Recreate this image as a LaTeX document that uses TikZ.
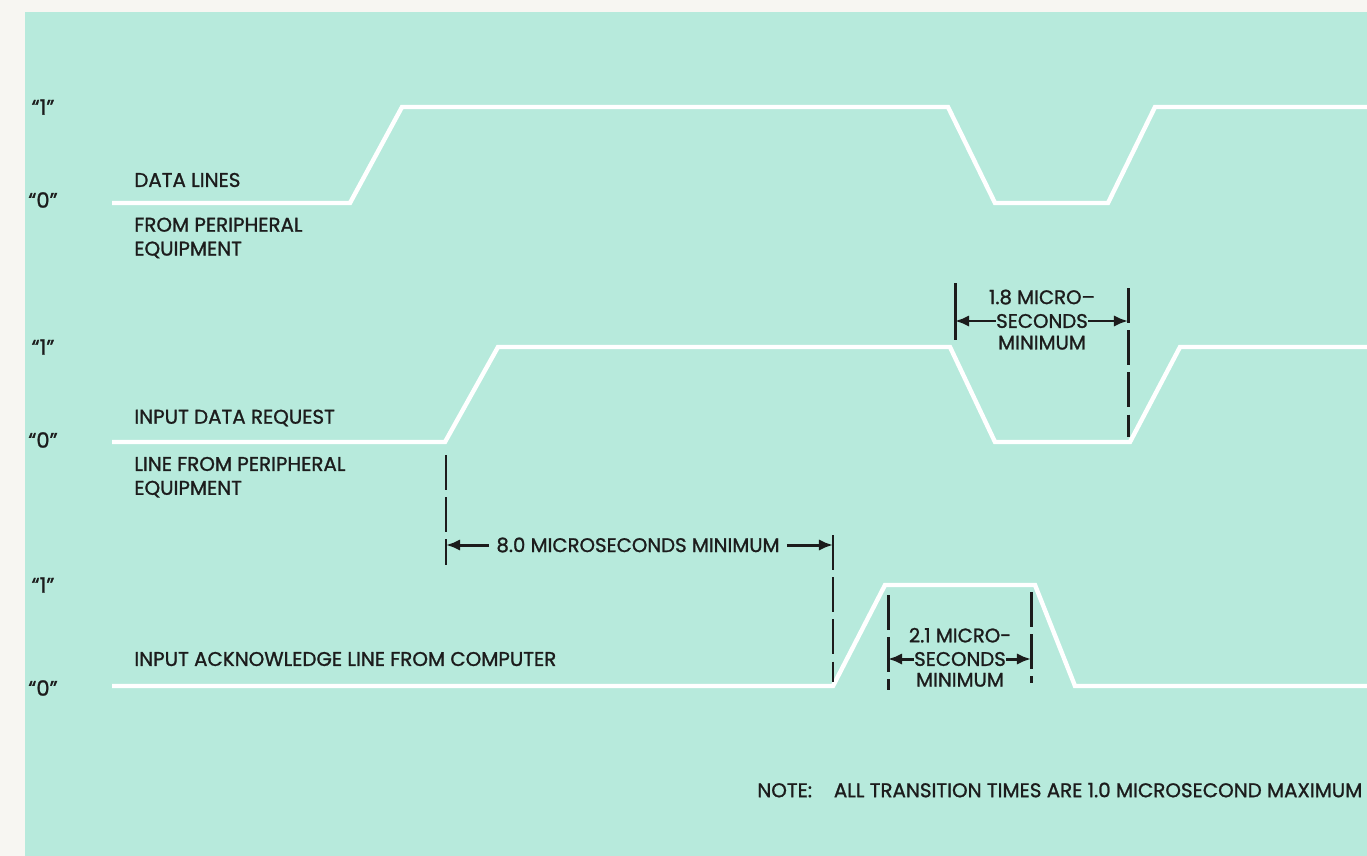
\documentclass[tikz,border=0pt]{standalone}
\usepackage{fontspec}
\setmainfont{Poppins}[FakeBold=1.2]
\usetikzlibrary{arrows.meta, positioning}
\definecolor{mintbg}{RGB}{183,234,220}
\definecolor{paperbg}{RGB}{247,246,242}
\definecolor{inkblack}{RGB}{28,28,28}

\begin{document}
\begin{tikzpicture}[
  x=0.02cm, y=-0.02cm,
  wave/.style={draw=white, line width=2.5pt, line join=miter},
  lvl/.style={inner sep=0pt, text=inkblack, font=\fontsize{12}{13}\selectfont},
  lbl/.style={anchor=west, align=left, inner sep=0pt, text=inkblack, font=\fontsize{11.3}{13.6}\selectfont},
  dimtext/.style={align=center, inner sep=0pt, text=inkblack, font=\fontsize{11.2}{12}\selectfont},
  marker/.style={draw=inkblack, line width=1.7pt, dash pattern=on 20pt off 4pt},
  dimarrow/.style={draw=inkblack, line width=1.7pt, -{Latex[length=8pt,width=6.5pt]}}
]
\useasboundingbox (0,0) rectangle (1367,856);

% paper and tinted panel
\fill[paperbg] (0,0) rectangle (1367,856);
\fill[mintbg] (25,12) rectangle (1367,856);

% logic levels
\foreach \name/\yy/\val in {aone/107/1, azero/200/0, bone/347/1, bzero/440/0, cone/585/1, czero/688/0} {
  \node[lvl] (\name) at (43,\yy) {``\val''};
}

% waveforms
\draw[wave] (112,203) -- (350,203) -- (402,107) -- (948,107) -- (995,203)
  -- (1108,203) -- (1155,107) -- (1367,107);
\draw[wave] (112,442) -- (445,442) -- (498,347) -- (950,347) -- (995,442)
  -- (1130,442) -- (1180,347) -- (1367,347);
\draw[wave] (112,686) -- (833,686) -- (885,585) -- (1035,585) -- (1075,686)
  -- (1367,686);

% signal names
\node[lbl] (datalines) at (134,180) {DATA LINES};
\node[lbl, below=17pt of datalines.south west, anchor=north west] (dataperiph) {FROM PERIPHERAL\\EQUIPMENT};
\node[lbl] (request) at (134,418) {INPUT DATA REQUEST};
\node[lbl, below=17pt of request.south west, anchor=north west] (reqperiph) {LINE FROM PERIPHERAL\\EQUIPMENT};
\node[lbl] (ack) at (134,659) {INPUT ACKNOWLEDGE LINE FROM COMPUTER};

% timing marks
\coordinate (ta) at (446,545);
\coordinate (tb) at (833,545);
\coordinate (tc) at (955,321);
\coordinate (td) at (1128,321);
\coordinate (te) at (888,659);
\coordinate (tf) at (1031,659);
\draw[marker] (446,455) -- (446,565);
\draw[marker] (833,535) -- (833,682);
\draw[line width=1.7pt, draw=inkblack] (955,283) -- (955,340);
\draw[marker] (1128,288) -- (1128,437);
\draw[marker] (888,595) -- (888,690);
\draw[marker] (1031,592) -- (1031,683);

% 8.0 us
\node[dimtext] (eight) at (638,545) {8.0 MICROSECONDS MINIMUM};
\draw[dimarrow] ([xshift=-4pt]eight.west) -- (ta);
\draw[dimarrow] ([xshift=4pt]eight.east) -- (tb);

% 1.8 us
\node[dimtext] (onesec) at (1042,321) {SECONDS};
\node[dimtext, above=5pt of onesec] (onetop) {1.8 MICRO--};
\node[dimtext, below=4pt of onesec] (onebot) {MINIMUM};
\draw[dimarrow] (onesec.west) -- (tc);
\draw[dimarrow] (onesec.east) -- (td);

% 2.1 us
\node[dimtext] (twosec) at (960,659) {SECONDS};
\node[dimtext, above=5pt of twosec] (twotop) {2.1 MICRO-};
\node[dimtext, below=3.5pt of twosec] (twobot) {MINIMUM};
\draw[dimarrow] (twosec.west) -- (te);
\draw[dimarrow] (twosec.east) -- (tf);

% note
\node[lbl] (note) at (757,790) {NOTE:\hspace{1.1em}ALL TRANSITION TIMES ARE 1.0 MICROSECOND MAXIMUM};

\end{tikzpicture}
\end{document}
